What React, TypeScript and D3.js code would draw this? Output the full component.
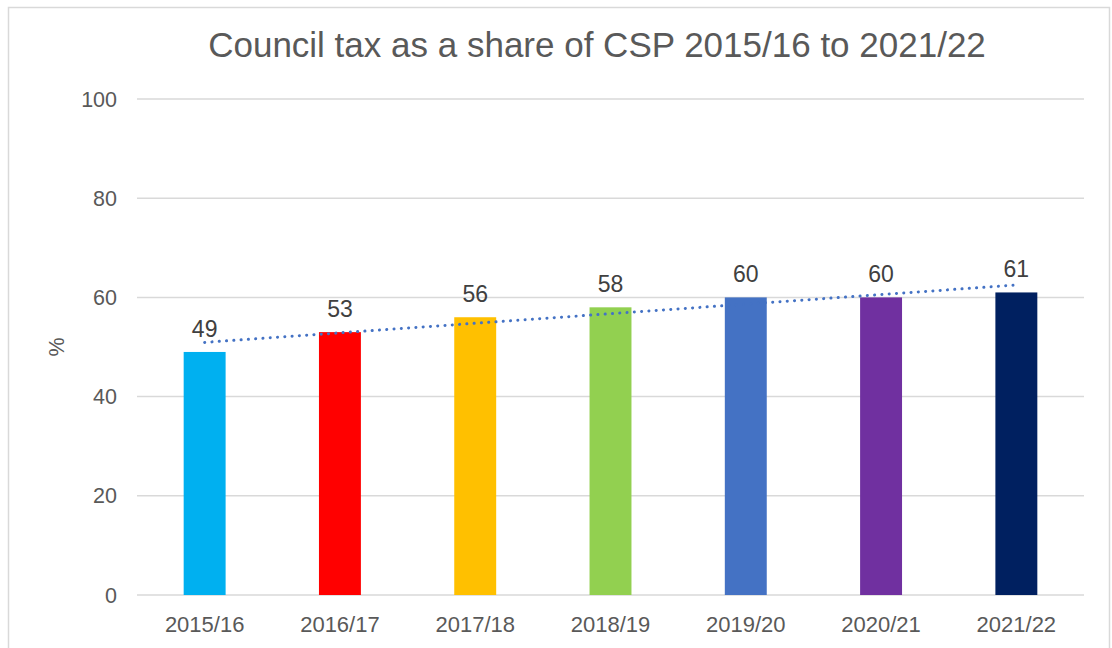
import * as React from 'react';
import { useEffect, useRef } from 'react';
import * as d3 from 'd3';

// Chart data
const years = ['2015/16', '2016/17', '2017/18', '2018/19', '2019/20', '2020/21', '2021/22'];
const shares = [49, 53, 56, 58, 60, 60, 61];
const barColors = ['#00B0F0', '#FF0000', '#FFC000', '#92D050', '#4472C4', '#7030A0', '#002060'];
const yTicks = [0, 20, 40, 60, 80, 100];

const W = 1112;
const H = 648;

// least squares fit for the trendline
function linearFit(values: number[]): [number, number] {
  const n = values.length;
  const mx = d3.mean(values, (_, i) => i) ?? 0;
  const my = d3.mean(values) ?? 0;
  let sxy = 0;
  let sxx = 0;
  values.forEach((v, i) => {
    sxy += (i - mx) * (v - my);
    sxx += (i - mx) * (i - mx);
  });
  const slope = n > 1 ? sxy / sxx : 0;
  return [slope, my - slope * mx];
}

const App: React.FC = () => {
  const svgRef = useRef<SVGSVGElement>(null);

  useEffect(() => {
    const svg = d3.select(svgRef.current);
    svg.selectAll('*').remove();

    const font = 'Arial, "Liberation Sans", sans-serif';
    const textColor = '#595959';

    // outer chart frame
    svg.append('rect')
      .attr('x', 8.5).attr('y', 7.5)
      .attr('width', 1101).attr('height', 680)
      .attr('fill', '#fff')
      .attr('stroke', '#d9d9d9')
      .attr('stroke-width', 1.5);

    const left = 137, right = 1084, top = 99, bottom = 595;

    const x = d3.scaleBand<string>().domain(years).range([left, right]).paddingInner(0.69).paddingOuter(0.345);
    const y = d3.scaleLinear().domain([0, 100]).range([bottom, top]);

    // title
    svg.append('text')
      .attr('x', 597)
      .attr('y', 57)
      .attr('text-anchor', 'middle')
      .attr('font-family', font)
      .attr('font-size', 35)
      .attr('fill', textColor)
      .text('Council tax as a share of CSP 2015/16 to 2021/22');

    // gridlines
    svg.append('g')
      .selectAll('line')
      .data(yTicks)
      .enter().append('line')
      .attr('x1', left).attr('x2', right)
      .attr('y1', d => y(d)).attr('y2', d => y(d))
      .attr('stroke', '#d9d9d9')
      .attr('stroke-width', 1.5);

    // y tick labels
    svg.append('g')
      .selectAll('text')
      .data(yTicks)
      .enter().append('text')
      .attr('x', 117)
      .attr('y', d => y(d) + 7.5)
      .attr('text-anchor', 'end')
      .attr('font-family', font)
      .attr('font-size', 21.5)
      .attr('fill', textColor)
      .text(d => d);

    // y axis title
    svg.append('text')
      .attr('transform', `translate(64,${(top + bottom) / 2}) rotate(-90)`)
      .attr('text-anchor', 'middle')
      .attr('font-family', font)
      .attr('font-size', 21.5)
      .attr('fill', textColor)
      .text('%');

    // bars
    svg.append('g')
      .selectAll('rect')
      .data(shares)
      .enter().append('rect')
      .attr('x', (_, i) => x(years[i]) ?? 0)
      .attr('width', x.bandwidth())
      .attr('y', d => y(d))
      .attr('height', d => y(0) - y(d))
      .attr('fill', (_, i) => barColors[i]);

    // x labels
    svg.append('g')
      .selectAll('text')
      .data(years)
      .enter().append('text')
      .attr('x', d => (x(d) ?? 0) + x.bandwidth() / 2)
      .attr('y', 632)
      .attr('text-anchor', 'middle')
      .attr('font-family', font)
      .attr('font-size', 22)
      .attr('fill', textColor)
      .text(d => d);

    // trendline
    const [slope, intercept] = linearFit(shares);
    const cx = (i: number) => (x(years[i]) ?? 0) + x.bandwidth() / 2;
    svg.append('line')
      .attr('x1', cx(0)).attr('x2', cx(shares.length - 1))
      .attr('y1', y(intercept)).attr('y2', y(intercept + slope * (shares.length - 1)))
      .attr('stroke', '#4472C4')
      .attr('stroke-width', 3)
      .attr('stroke-linecap', 'round')
      .attr('stroke-dasharray', '0.1 7.2');

    // data labels
    svg.append('g')
      .selectAll('text')
      .data(shares)
      .enter().append('text')
      .attr('x', (_, i) => cx(i))
      .attr('y', d => y(d) - 15)
      .attr('text-anchor', 'middle')
      .attr('font-family', font)
      .attr('font-size', 23)
      .attr('fill', '#404040')
      .text(d => d);
  }, []);

  return (
    <svg ref={svgRef} width={W} height={H} style={{ position: 'absolute', left: 0, top: 0 }}></svg>
  );
};

export default App;
